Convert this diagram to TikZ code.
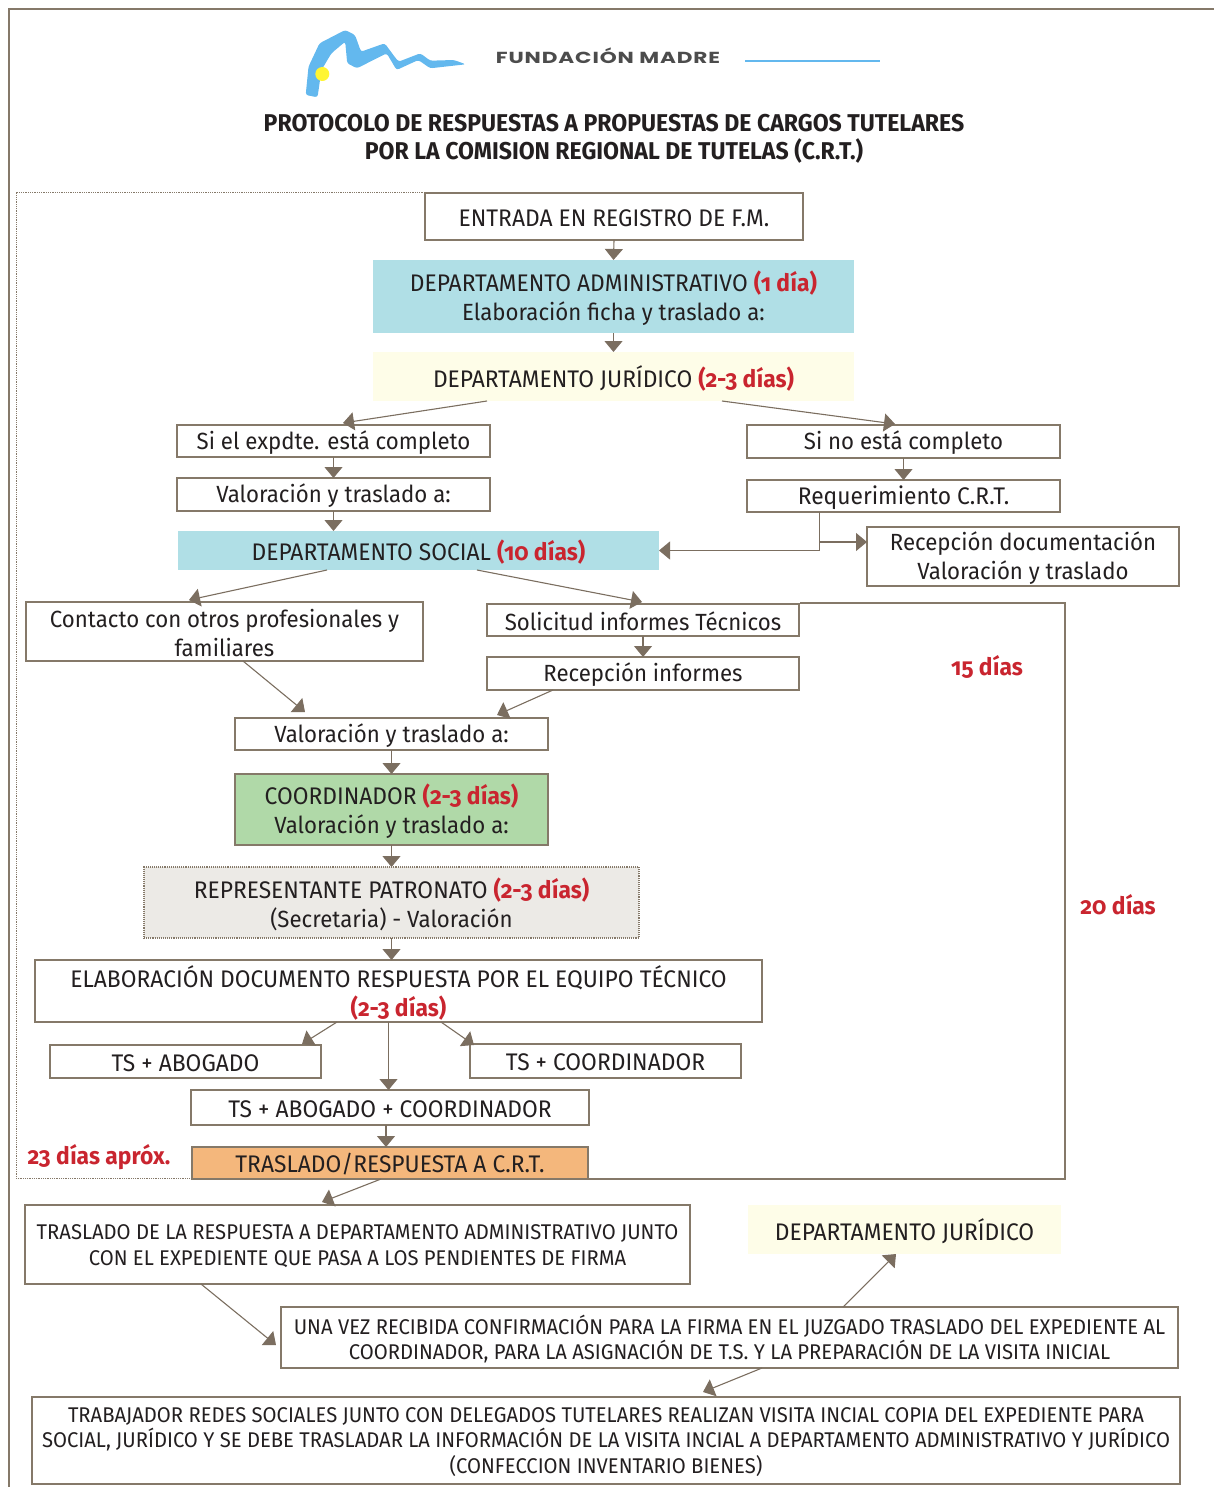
\documentclass[tikz,border=0pt]{standalone}
\usepackage{fontspec}
\setmainfont[FakeStretch=0.95,Numbers=OldStyle]{Fira Sans}
\newfontfamily\logofont[LetterSpace=5.5,FakeStretch=1.35]{Poppins}
\usetikzlibrary{arrows.meta}
\definecolor{lnc}{HTML}{857969}
\definecolor{arc}{HTML}{7B6E60}
\definecolor{txc}{HTML}{231F20}
\definecolor{redc}{HTML}{C9252F}
\definecolor{bluef}{HTML}{B0DFE6}
\definecolor{yelf}{HTML}{FEFDE8}
\definecolor{grnf}{HTML}{B0D9A8}
\definecolor{gryf}{HTML}{ECEAE6}
\definecolor{orgf}{HTML}{F4B77C}
\definecolor{logob}{HTML}{63B8EE}
\newcommand{\rd}[1]{\textcolor{redc}{\textbf{#1}}}
\newcommand{\lc}[1]{{\fontsize{23.4}{29}\selectfont #1}}
\newcommand{\fa}{\fontsize{24}{29}\selectfont}
\newcommand{\fb}{\fontsize{21.3}{25.5}\selectfont}
\newcommand{\lf}{\fa}
\newcommand{\bx}[7]{%
  \pgfmathsetmacro{\bw}{#4-#2}\pgfmathsetmacro{\bh}{#5-#3}%
  \pgfmathsetmacro{\cx}{(#4+#2)/2}\pgfmathsetmacro{\cy}{(#5+#3)/2}%
  \node[#6,minimum width=\bw pt,minimum height=\bh pt,label={[yshift=-1.5pt]center:#7}] (#1) at (\cx,\cy) {};}
\tikzset{
  every label/.style={align=center,text=txc,inner sep=0pt,outer sep=0pt,font=\lf},
  boxa/.style={draw=lnc,line width=1.1pt,fill=white,inner sep=0pt,outer sep=0pt},
  plain/.style={boxa,draw=none},
  con/.style={draw=arc,line width=1.1pt,-{Triangle[length=11pt,width=18pt]}},
  red lab/.style={inner sep=0pt,text=redc,font=\fontsize{24}{28}\selectfont\bfseries}
}
\begin{document}
\begin{tikzpicture}[x=1pt,y=-1pt]
\useasboundingbox (0,0) rectangle (1214,1487);
% frame
\draw[lnc,line width=1.1pt] (9,1487) -- (9,9) -- (1214,9);
\draw[lnc,line width=.8pt,densely dotted] (425,192) -- (16,192) -- (16,1178) -- (192,1178);
\draw[lnc,line width=1.1pt] (800,603) -- (1065,603) -- (1065,1179) -- (588,1179);
% logo
\fill[logob,rounded corners=2.5pt] (305.7,95) -- (308.5,66.7) -- (319.5,43.3) -- (345.2,30) -- (355,35) -- (361,51.7) -- (384.7,43.3) -- (394.6,56.7) -- (398.6,61.7) -- (420.3,53.3) -- (430.2,60.7) -- (453.9,60) -- (465.8,64.3) -- (430.2,68.3) -- (418.3,60) -- (396.6,70) -- (386.7,53.3) -- (357,68.3) -- (347.2,63.3) -- (345.2,41.7) -- (331.4,53.3) -- (321.5,70) -- (317.5,97.3) -- cycle;
\fill[yellow!80!white] (322.3,74) ellipse (7pt and 7pt);
\node[inner sep=0pt,text=black!70,font=\logofont\fontsize{16}{18}\selectfont\bfseries] (logotxt) at (608,56) {FUNDACIÓN MADRE};
\draw[logob,line width=2.5pt] (745,61) -- (880,61);
% title
\node[inner sep=0pt,align=center,text=txc,font=\fontsize{24.3}{28.5}\selectfont\bfseries] (title) at (614,139) {PROTOCOLO DE RESPUESTAS A PROPUESTAS DE CARGOS TUTELARES\\POR LA COMISION REGIONAL DE TUTELAS (C.R.T.)};
% boxes
\bx{entrada}{425}{193}{803}{240}{boxa}{ENTRADA EN REGISTRO DE F.M.}
\bx{admin}{373}{260}{854}{333}{plain,fill=bluef}{DEPARTAMENTO ADMINISTRATIVO \rd{(1 día)}\\\lc{Elaboración ficha y traslado a:}}
\bx{jur}{373}{352}{854}{401}{plain,fill=yelf}{DEPARTAMENTO JURÍDICO \rd{(2-3 días)}}
\bx{sicomp}{177}{425}{490}{457}{boxa}{\lc{Si el expdte. está completo}}
\bx{nocomp}{747}{425}{1060}{458}{boxa}{\lc{Si no está completo}}
\bx{valuno}{177}{478}{490}{511}{boxa}{\lc{Valoración y traslado a:}}
\bx{req}{747}{480}{1060}{512}{boxa}{Requerimiento C.R.T.}
\bx{social}{178}{531}{659}{570}{plain,fill=bluef}{DEPARTAMENTO SOCIAL \rd{(10 días)}}
\bx{recdoc}{867}{527}{1179}{586}{boxa}{\lc{Recepción documentación}\\\lc{Valoración y traslado}}
\bx{contacto}{26}{602}{423}{661}{boxa}{\lc{Contacto con otros profesionales y}\\\lc{familiares}}
\bx{solic}{487}{604}{799}{636}{boxa}{\lc{Solicitud informes Técnicos}}
\bx{recinf}{487}{657}{799}{690}{boxa}{\lc{Recepción informes}}
\bx{valdos}{235}{718}{548}{750}{boxa}{\lc{Valoración y traslado a:}}
\bx{coord}{235}{774}{548}{845}{boxa,fill=grnf}{COORDINADOR \rd{(2-3 días)}\\\lc{Valoración y traslado a:}}
\bx{repres}{144}{867}{639}{938}{boxa,fill=gryf,densely dotted}{REPRESENTANTE PATRONATO \rd{(2-3 días)}\\\lc{(Secretaria) - Valoración}}
\bx{elab}{35}{960}{762}{1022}{boxa}{ELABORACIÓN DOCUMENTO RESPUESTA POR EL EQUIPO TÉCNICO\\\rd{(2-3 días)}}
\bx{tsab}{50}{1045}{321}{1078}{boxa}{TS + ABOGADO}
\bx{tsco}{470}{1044}{741}{1078}{boxa}{TS + COORDINADOR}
\bx{tsabco}{191}{1090}{589}{1125}{boxa}{TS + ABOGADO + COORDINADOR}
\bx{trasl}{192}{1147}{588}{1179}{boxa,fill=orgf}{TRASLADO/RESPUESTA A C.R.T.}
\bx{jurdos}{748}{1205}{1061}{1254}{plain,fill=yelf}{DEPARTAMENTO JURÍDICO}
\renewcommand{\lf}{\fb}
\bx{trasdoc}{25}{1205}{690}{1284}{boxa}{TRASLADO DE LA RESPUESTA A DEPARTAMENTO ADMINISTRATIVO JUNTO\\CON EL EXPEDIENTE QUE PASA A LOS PENDIENTES DE FIRMA}
\bx{unavez}{281}{1307}{1178}{1368}{boxa}{UNA VEZ RECIBIDA CONFIRMACIÓN PARA LA FIRMA EN EL JUZGADO TRASLADO DEL EXPEDIENTE AL\\COORDINADOR, PARA LA ASIGNACIÓN DE T.S. Y LA PREPARACIÓN DE LA VISITA INICIAL}
\bx{trab}{32}{1397}{1180}{1484}{boxa}{TRABAJADOR REDES SOCIALES JUNTO CON DELEGADOS TUTELARES REALIZAN VISITA INCIAL COPIA DEL EXPEDIENTE PARA\\SOCIAL, JURÍDICO Y SE DEBE TRASLADAR LA INFORMACIÓN DE LA VISITA INCIAL A DEPARTAMENTO ADMINISTRATIVO Y JURÍDICO\\(CONFECCION INVENTARIO BIENES)}
% red labels
\node[red lab] (dquince) at (987,667) {15 días};
\node[red lab] (dveinte) at (1118,905) {20 días};
\node[red lab] (dveintres) at (99,1157) {23 días apróx.};
% connectors
\draw[con] (entrada.south) -- (admin.north);
\draw[con] (admin.south) -- (jur.north);
\draw[con] ([xshift=-126.5pt]jur.south) -- ([xshift=9.5pt,yshift=2pt]sicomp.north);
\draw[con] ([xshift=108.5pt]jur.south) -- ([xshift=-8.5pt,yshift=1pt]nocomp.north);
\draw[con] (sicomp.south) -- (valuno.north);
\draw[con] (nocomp.south) -- (req.north);
\draw[con] (valuno.south) -- (valuno.south |- social.north);
\coordinate (reqdown) at ([xshift=-84pt]req.south);
\coordinate (recin) at ([yshift=14.5pt]recdoc.west);
\draw[con] (reqdown) -- (reqdown |- social.east) -- (social.east);
\draw[con] (reqdown |- recin) -- (recin);
\draw[con] ([xshift=-91.5pt]social.south) -- ([xshift=-35.5pt,yshift=2pt]contacto.north);
\draw[con] ([xshift=58.5pt]social.south) -- ([xshift=-1pt,yshift=2pt]solic.north);
\draw[con] ([xshift=18.5pt]contacto.south) -- ([xshift=-86.5pt,yshift=6pt]valdos.north);
\draw[con] (solic.south) -- (recinf.north);
\draw[con] ([xshift=-90pt]recinf.south) -- ([xshift=105.5pt,yshift=3pt]valdos.north);
\draw[con] (valdos.south) -- (coord.north);
\draw[con] (coord.south) -- (repres.north);
\draw[con] (repres.south) -- (repres.south |- elab.north);
\draw[con] ([xshift=-61.5pt]elab.south) -- ([xshift=116.5pt,yshift=1pt]tsab.north);
\draw[con] ([xshift=-10pt]elab.south) -- ([xshift=-1.5pt]tsabco.north);
\draw[con] ([xshift=42.5pt]elab.south) -- ([xshift=-131.5pt,yshift=-1pt]tsco.north);
\draw[con] ([xshift=-4pt]tsabco.south) -- ([xshift=-4pt]trasl.north);
\draw[con] ([xshift=-9pt]trasl.south) -- ([xshift=-35.5pt,yshift=3pt]trasdoc.north);
\draw[con] ([xshift=-156.5pt]trasdoc.south) -- ([xshift=-5pt,yshift=-7.5pt]unavez.west);
\draw[con] ([xshift=113.5pt]unavez.north) -- ([xshift=-8.5pt]jurdos.south);
\draw[con] ([xshift=32.5pt]unavez.south) -- ([xshift=97pt,yshift=5pt]trab.north);
\end{tikzpicture}
\end{document}
